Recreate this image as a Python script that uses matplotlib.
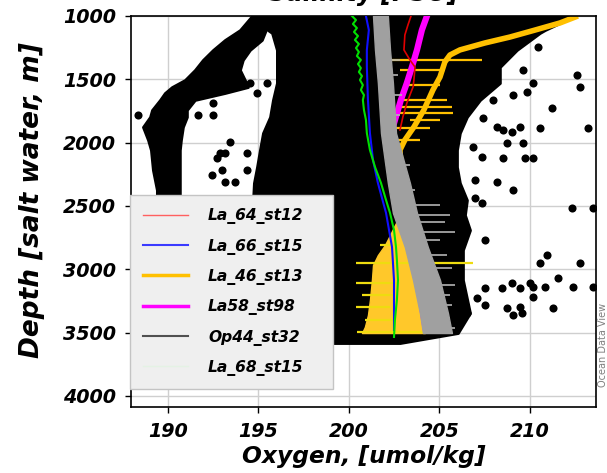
import numpy as np
import matplotlib
matplotlib.use('Agg')
import matplotlib.pyplot as plt
from matplotlib.lines import Line2D

plt.rcParams['font.family'] = ['DejaVu Sans']
plt.rcParams['font.weight'] = 'bold'
plt.rcParams['font.style'] = 'italic'

# ---- data (oxygen umol/kg vs depth m) ----
# dense black cloud: left diagonal band
band_depth = [1000, 1111, 1189, 1268, 1347, 1426, 1505, 1561, 1608, 1663, 1742, 1797, 1876, 1979, 2058, 2216, 2374, 3242]
band_left = [194.64, 193.98, 193.15, 192.49, 191.93, 191.49, 190.94, 190.22, 189.83, 189.56, 189.12, 189.01, 188.62, 188.90, 189.06, 189.17, 189.39, 189.39]
band_right = [195.41, 195.41, 195.19, 194.53, 194.14, 193.98, 194.25, 194.42, 193.15, 191.49, 191.05, 191.05, 190.83, 190.72, 190.66, 190.66, 190.66, 190.66]

# dense black cloud: main body
body_depth = [1000, 1055, 1111, 1134, 1268, 1403, 1529, 1663, 1797, 1924, 2058, 2192, 2318, 2453, 2571, 2690, 2847, 3084, 3345, 3503, 3582]
body_left = [195.19, 195.41, 195.52, 195.75, 196.02, 196.02, 196.02, 195.80, 195.64, 195.25, 195.08, 194.92, 194.75, 194.70, 194.70, 194.70, 194.70, 194.70, 194.70, 194.70, 194.70]
body_right = [212.49, 211.66, 210.83, 210.55, 209.28, 208.34, 208.34, 207.24, 206.52, 206.13, 205.97, 205.97, 206.13, 206.52, 206.41, 206.69, 206.30, 206.30, 206.69, 206.02, 202.82]

# isolated samples
dots_oxy = [210.44, 209.61, 210.17, 212.60, 212.76, 207.96, 209.06, 209.83, 211.22, 213.20,
            207.40, 208.18, 208.51, 209.01, 209.45, 210.55, 208.73, 209.61, 206.85, 207.35,
            208.51, 209.72, 210.17, 206.96, 208.18, 209.06, 206.96, 207.35, 212.32, 213.48,
            207.51, 210.94, 210.55, 212.76, 211.55, 209.01, 208.45, 209.45, 210.00, 210.17,
            210.83, 212.38, 213.48, 207.51, 210.17, 207.07, 207.51, 208.73, 209.45, 209.06,
            209.56, 211.27, 206.41, 206.52,
            194.53, 195.47, 194.92, 192.49, 191.66, 192.49, 188.34, 193.43, 192.87, 193.15,
            194.36, 192.71, 192.98, 192.43, 194.36, 193.15, 193.70]
dots_depth = [1245, 1426, 1529, 1466, 1561, 1663, 1624, 1600, 1726, 1884,
              1805, 1876, 1900, 1916, 1876, 1884, 2003, 2003, 2034, 2113,
              2121, 2121, 2121, 2295, 2311, 2374, 2437, 2476, 2516, 2516,
              2768, 2887, 2950, 2950, 3068, 3108, 3147, 3147, 3108, 3139,
              3139, 3139, 3139, 3147, 3218, 3226, 3282, 3305, 3297, 3361,
              3345, 3305, 3282, 3345,
              1529, 1529, 1608, 1687, 1782, 1782, 1782, 1995, 2082, 2082,
              2082, 2121, 2216, 2255, 2216, 2311, 2311]

# La_68_st15 (green)
green_depth = [1000, 1032, 1063, 1095, 1126, 1158, 1189, 1221, 1253, 1284, 1316, 1347, 1379, 1411, 1442, 1474, 1505,
               1545, 1584, 1624, 1663, 1742, 1821, 1924, 2058, 2192, 2318, 2453, 2555, 2690, 2824, 2926, 3084, 3242, 3400, 3534]
green_oxy = [200.17, 200.39, 200.22, 200.44, 200.28, 200.50, 200.33, 200.55, 200.39, 200.55, 200.44, 200.66, 200.50, 200.66,
             200.55, 200.72, 200.61, 200.77, 200.66, 200.83, 200.77, 200.83, 200.94, 200.99, 201.16, 201.44, 201.77, 202.05,
             202.27, 202.49, 202.60, 202.65, 202.71, 202.65, 202.54, 202.49]

# La_66_st15 (blue)
blue_depth = [1000, 1111, 1268, 1403, 1663, 1924, 2137, 2318, 2555, 2824, 3084, 3479]
blue_oxy = [200.94, 201.10, 200.99, 200.99, 201.05, 201.16, 201.33, 201.60, 202.05, 202.38, 202.49, 202.49]

# Op44_st32 (grey band)
gray_depth = [1000, 1268, 1529, 1924, 2318, 2555, 2824, 3084, 3345, 3503]
gray_left = [201.33, 201.44, 201.60, 201.77, 202.15, 202.43, 203.09, 203.54, 203.92, 204.09]
gray_right = [202.15, 202.27, 202.43, 202.60, 203.37, 203.76, 204.36, 205.03, 205.47, 205.69]
gray_spike_depth = [1347, 1466, 1624, 1782, 2176, 2374, 2492, 2571, 2626, 2705, 2768, 2887, 2989, 3124, 3203, 3282, 3384, 3463]
gray_spike_end = [202.82, 202.71, 202.93, 202.82, 203.37, 203.65, 205.03, 205.58, 205.30, 205.86, 205.03, 205.41,
                  205.69, 205.86, 205.58, 205.69, 205.58, 205.86]

# La58_st98 (magenta)
magenta_depth = [1000, 1111, 1268, 1403, 1529, 1663, 1742, 1876, 2058, 2255, 2453, 2690, 2926, 3242, 3479]
magenta_oxy = [204.31, 204.03, 203.76, 203.48, 203.20, 202.87, 202.71, 202.43, 202.43, 202.71, 203.04, 203.37, 203.70, 203.98, 204.25]

# La_64_st12 (red)
red_depth = [1000, 1071, 1150, 1268, 1347, 1403, 1505, 1561, 1624, 1687, 1797, 1900]
red_oxy = [203.43, 203.26, 203.09, 203.04, 203.37, 203.65, 203.59, 203.54, 203.37, 203.20, 202.98, 202.82]

# La_46_st13 (orange)
orange_depth = [1000, 1055, 1111, 1166, 1213, 1268, 1308, 1363, 1482, 1584, 1742, 1876, 1979, 2058, 2318, 2571]
orange_oxy = [212.65, 211.66, 210.28, 208.90, 207.51, 206.13, 205.58, 205.30, 205.03, 204.64, 204.14, 203.59, 203.09, 202.82, 202.93, 202.71]
orange_spike_depth = [1347, 1426, 1545, 1663, 1718, 1766, 1821, 1884, 1979]
orange_spike_lo = [202.27, 202.82, 203.09, 202.98, 202.65, 202.82, 203.37, 202.54, 202.27]
orange_spike_hi = [207.35, 205.30, 205.03, 205.41, 205.69, 205.75, 205.03, 204.47, 203.92]
yellow_depth = [2634, 2729, 2808, 2887, 2966, 3084, 3242, 3361, 3455, 3503]
yellow_left = [202.60, 202.27, 201.99, 201.60, 201.33, 201.27, 201.16, 201.05, 200.88, 200.72]
yellow_right = [202.82, 203.09, 203.37, 203.54, 203.65, 203.81, 203.92, 204.03, 204.09, 204.20]
yellow_spike_depth = [2808, 2950, 3108, 3203, 3297, 3400, 3495]
yellow_spike_lo = [201.71, 200.39, 200.39, 200.72, 200.39, 200.88, 200.44]
yellow_spike_hi = [202.82, 206.85, 202.82, 202.54, 202.27, 202.54, 204.20]

station_names = ['La_64_st12', 'La_66_st15', 'La_46_st13', 'La58_st98', 'Op44_st32', 'La_68_st15']
legend_colors = ['#ff6060', '#3a3aff', '#ffc000', '#ff00ff', '#505050', '#e4f2e4']
legend_widths = [1.0, 1.5, 2.5, 2.5, 1.5, 1.0]

xticks = [190, 195, 200, 205, 210]
yticks = [1000, 1500, 2000, 2500, 3000, 3500, 4000]

# ---- figure ----
fig = plt.figure(figsize=(6.07, 4.73), dpi=100)
ax = fig.add_axes([0.2158, 0.1395, 0.7661, 0.8267])
ax.set_xlim(187.96, 213.65)
ax.set_ylim(4087, 1000)
ax.set_xticks(xticks)
ax.set_yticks(yticks)
ax.grid(True, color='#cfcfcf', lw=1.0, zorder=0)
ax.set_axisbelow(True)

# black sample cloud
ax.fill_betweenx(band_depth, band_left, band_right, color='black', lw=2, zorder=1)
ax.fill_betweenx(body_depth, body_left, body_right, color='black', lw=2, zorder=1)
ax.scatter(dots_oxy, dots_depth, s=34, color='black', lw=0, zorder=1)

# stations
ax.hlines(orange_spike_depth, orange_spike_lo, orange_spike_hi, color='#ffc000', lw=1.6, zorder=2)
ax.plot(orange_oxy, orange_depth, color='#ffc000', lw=4, zorder=2, solid_capstyle='butt')
ax.fill_betweenx(yellow_depth, yellow_left, yellow_right, color='#ffc82a', lw=1, zorder=2)
ax.hlines(yellow_spike_depth, yellow_spike_lo, yellow_spike_hi, color='#eedc10', lw=1.6, zorder=2)
ax.plot(magenta_oxy, magenta_depth, color='#ff00ff', lw=4.5, zorder=3)
ax.plot(red_oxy, red_depth, color='#e00000', lw=1.2, zorder=3)
spike_start = np.interp(gray_spike_depth, gray_depth, gray_right)
ax.hlines(gray_spike_depth, spike_start, gray_spike_end, color='#b4b4b4', lw=1.2, zorder=4)
ax.fill_betweenx(gray_depth, gray_left, gray_right, color='#a0a0a0', lw=1, zorder=4)
ax.plot(blue_oxy, blue_depth, color='#1010ff', lw=1.5, zorder=5)
ax.plot(green_oxy, green_depth, color='#00e000', lw=1.5, zorder=5)

# axes styling
for sp in ax.spines.values():
    sp.set_linewidth(1.2)
ax.tick_params(direction='out', length=4, width=1, labelsize=13.8, pad=7)
for lab in ax.get_xticklabels() + ax.get_yticklabels():
    lab.set_fontweight('bold')
    lab.set_fontstyle('italic')

ax.set_xlabel('Oxygen, [umol/kg]', fontsize=16.8, fontweight='bold', labelpad=3)
ax.set_ylabel('Depth [salt water, m]', fontsize=19, fontweight='bold')
ax.yaxis.set_label_coords(-0.185, 0.53)
ax.set_title('Salinity [PSU]', fontsize=17.5, fontweight='bold', pad=11)

handles = [Line2D([], [], color=c, lw=w) for c, w in zip(legend_colors, legend_widths)]
leg = ax.legend(handles, station_names, loc='upper left', bbox_to_anchor=(-0.003, 0.051, 0.437, 0.491),
                mode='expand', fontsize=11.2, handlelength=2.9, handletextpad=1.3,
                labelspacing=0.92, borderpad=0.85, borderaxespad=0, fancybox=False,
                framealpha=1, facecolor='#efefef', edgecolor='#c4c4c4')
leg.set_zorder(10)

fig.text(0.994, 0.27, 'Ocean Data View', rotation=90, fontsize=7, color='#808080',
         ha='center', va='center', fontstyle='normal', fontweight='normal')

fig.savefig('out.png', dpi=100)
